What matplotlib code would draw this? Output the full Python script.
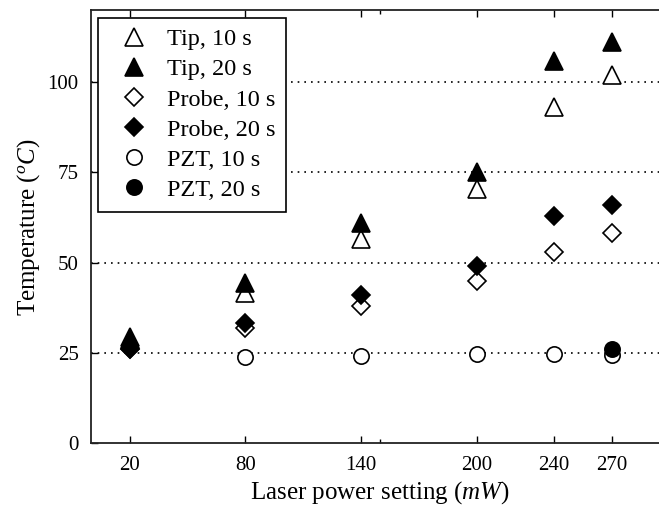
import numpy as np
import matplotlib
matplotlib.use("Agg")
import matplotlib.pyplot as plt

plt.rcParams['font.family'] = ['Liberation Serif', 'DejaVu Serif']
plt.rcParams['mathtext.fontset'] = 'custom'
plt.rcParams['mathtext.rm'] = 'Liberation Serif'
plt.rcParams['mathtext.it'] = 'Liberation Serif:italic'

power = [20, 80, 140, 200, 240, 270]
tip_10 = [28.8, 41.5, 56.5, 70.5, 93, 102]
tip_20 = [29.4, 44.3, 61, 75, 106, 111]
probe_10 = [26.0, 31.8, 38, 45, 53, 58.3]
probe_20 = [26.2, 33.4, 41, 49, 63, 66]
pzt_10 = [np.nan, 23.9, 24.2, 24.6, 24.6, 24.5]
pzt_20 = [np.nan, np.nan, np.nan, np.nan, np.nan, 26.2]
grid_levels = [25, 50, 75, 100]
yticks = [0, 25, 50, 75, 100]

fig = plt.figure(figsize=(6.59, 5.08), dpi=100)
ax = fig.add_axes([91/659, 1 - 443.3/508, (669.4 - 91)/659, (443.3 - 10)/508])

for g in grid_levels:
    ax.axhline(g, color='black', lw=1.2, ls=(0, (1, 3)), zorder=1)

ew = 1.2
ax.plot(power, tip_10, ls='none', marker='^', ms=13, mfc='white', mec='black', mew=ew, label='Tip, 10 s', zorder=3)
ax.plot(power, tip_20, ls='none', marker='^', ms=13, mfc='black', mec='black', mew=ew, label='Tip, 20 s', zorder=3)
ax.plot(power, probe_10, ls='none', marker='D', ms=9, mfc='white', mec='black', mew=ew, label='Probe, 10 s', zorder=3)
ax.plot(power, probe_20, ls='none', marker='D', ms=9, mfc='black', mec='black', mew=ew, label='Probe, 20 s', zorder=3)
ax.plot(power, pzt_10, ls='none', marker='o', ms=11, mfc='white', mec='black', mew=ew, label='PZT, 10 s', zorder=3)
ax.plot(power, pzt_20, ls='none', marker='o', ms=11, mfc='black', mec='black', mew=ew, label='PZT, 20 s', zorder=3)

ax.set_xlim(0, 300)
ax.set_ylim(0, 120)
ax.set_xticks(power)
ax.set_xticks([150], minor=True)
ax.set_yticks(yticks)
ax.tick_params(axis='both', which='major', direction='in', length=5, width=1, labelsize=15,
               top=True, right=False, pad=9)
ax.tick_params(axis='x', which='minor', direction='in', length=3, width=1, top=True)
for s in ax.spines.values():
    s.set_linewidth(1.3)
    s.set_color('#222222')
ax.spines['right'].set_visible(False)

ax.set_xlabel('Laser power setting ($mW$)', fontsize=18, labelpad=3)
ax.set_ylabel('Temperature ($^{o}C$)', fontsize=18, labelpad=4)

leg = ax.legend(loc='upper left', bbox_to_anchor=(6.5/578.4, 1 - 7.5/433.3), fontsize=17.5,
                frameon=True, fancybox=False, edgecolor='black', framealpha=1,
                labelspacing=0.33, handletextpad=0.33, borderpad=0.45, handlelength=2.08,
                borderaxespad=0)
leg.get_frame().set_linewidth(1.2)
leg.set_zorder(5)

fig.savefig('out.png', dpi=100)
